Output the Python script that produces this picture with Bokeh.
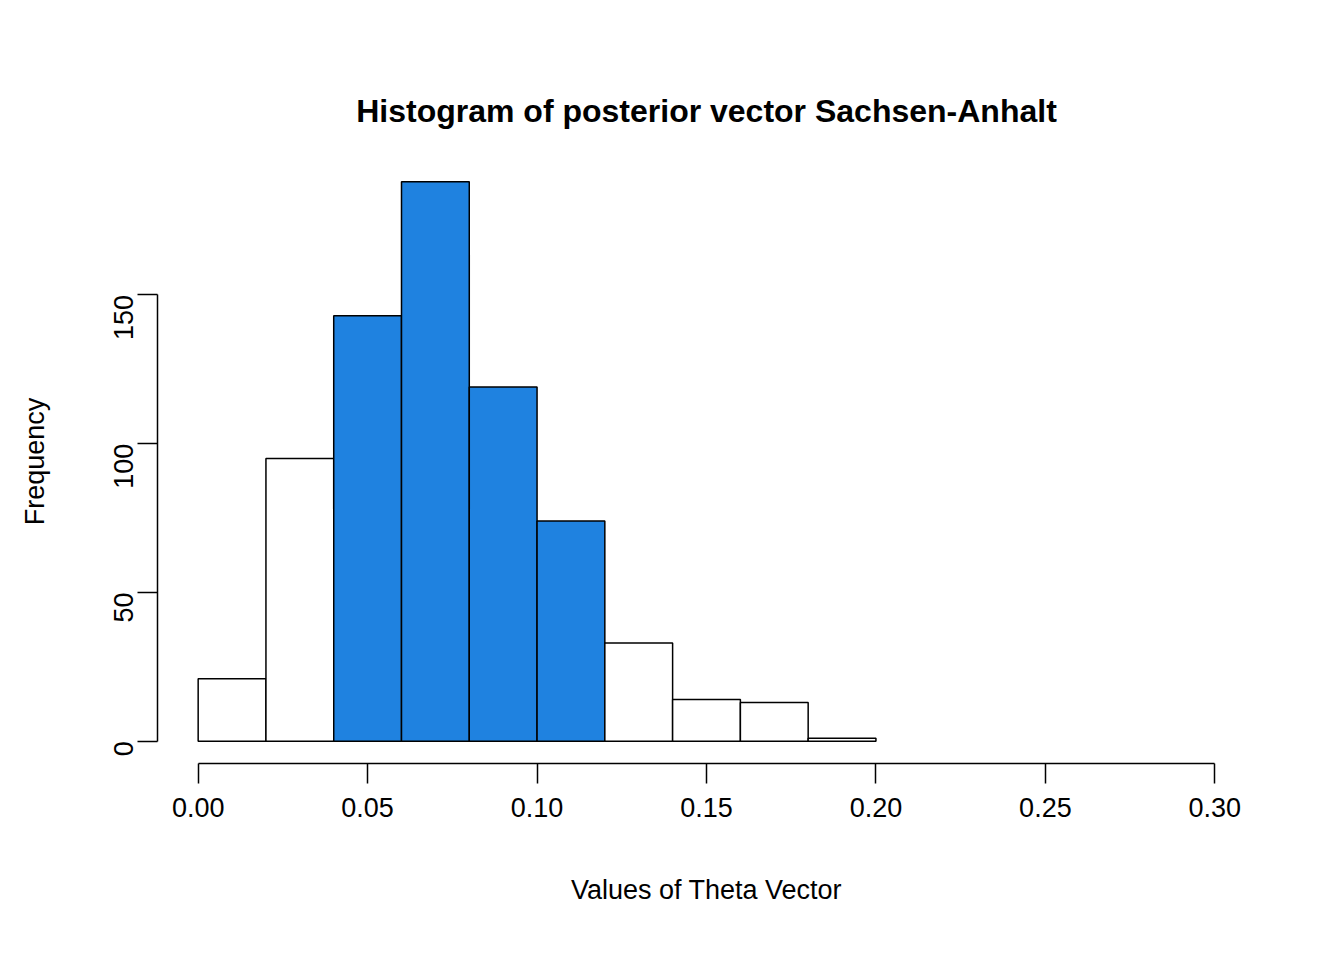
from math import pi
from bokeh.plotting import figure
from bokeh.models import FixedTicker, Range1d, CustomJSTickFormatter, ColumnDataSource
from bokeh.embed import file_html
from bokeh.resources import INLINE

# histogram bins of the posterior theta vector
bin_edges = [0.00, 0.02, 0.04, 0.06, 0.08, 0.10, 0.12, 0.14, 0.16, 0.18, 0.20]
counts = [21, 95, 143, 188, 119, 74, 33, 14, 13, 1]
highlight = (0.04, 0.12)
x_ticks = [0.00, 0.05, 0.10, 0.15, 0.20, 0.25, 0.30]
y_ticks = [0, 50, 100, 150]

fills = ["#1f82e0" if highlight[0] <= l and r <= highlight[1] + 1e-9 else "white"
         for l, r in zip(bin_edges[:-1], bin_edges[1:])]
src = ColumnDataSource(dict(left=bin_edges[:-1], right=bin_edges[1:],
                            top=counts, bottom=[0] * len(counts), fill=fills))

font = "Liberation Sans"
p = figure(width=1328, height=944, output_backend="svg", toolbar_location=None,
           x_range=Range1d(-0.012, 0.312), y_range=Range1d(-7.52, 195.5),
           min_border_left=157, min_border_right=73, min_border_top=159,
           min_border_bottom=181,
           title="Histogram of posterior vector Sachsen-Anhalt")
p.outline_line_color = None
p.grid.visible = False
p.title.align = "center"
p.title.text_font = font
p.title.text_font_size = "32px"
p.title.text_font_style = "bold"
p.title.text_color = "black"
p.title.standoff = 62

p.quad(left="left", right="right", top="top", bottom="bottom", source=src,
       fill_color="fill", line_color="black", line_width=1.5)

p.xaxis.ticker = FixedTicker(ticks=x_ticks)
p.xaxis.bounds = (0, 0.30)
p.xaxis.formatter = CustomJSTickFormatter(code="return tick.toFixed(2);")
p.xaxis.axis_label = "Values of Theta Vector"
p.yaxis.ticker = FixedTicker(ticks=y_ticks)
p.yaxis.bounds = (0, 150)
p.yaxis.axis_label = "Frequency"
p.yaxis.major_label_orientation = pi / 2

for ax in (p.xaxis, p.yaxis):
    ax.minor_tick_line_color = None
    ax.major_tick_out = 20
    ax.major_tick_in = 0
    ax.axis_line_width = 1.5
    ax.major_tick_line_width = 1.5
    ax.major_label_text_font = font
    ax.major_label_text_font_size = "27px"
    ax.major_label_text_color = "black"
    ax.axis_label_text_font = font
    ax.axis_label_text_font_size = "27px"
    ax.axis_label_text_font_style = "normal"
    ax.axis_label_text_color = "black"
    ax.major_label_standoff = 14
p.xaxis.axis_label_standoff = 55
p.yaxis.axis_label_standoff = 52

open("out.html", "w").write(file_html(p, INLINE))
